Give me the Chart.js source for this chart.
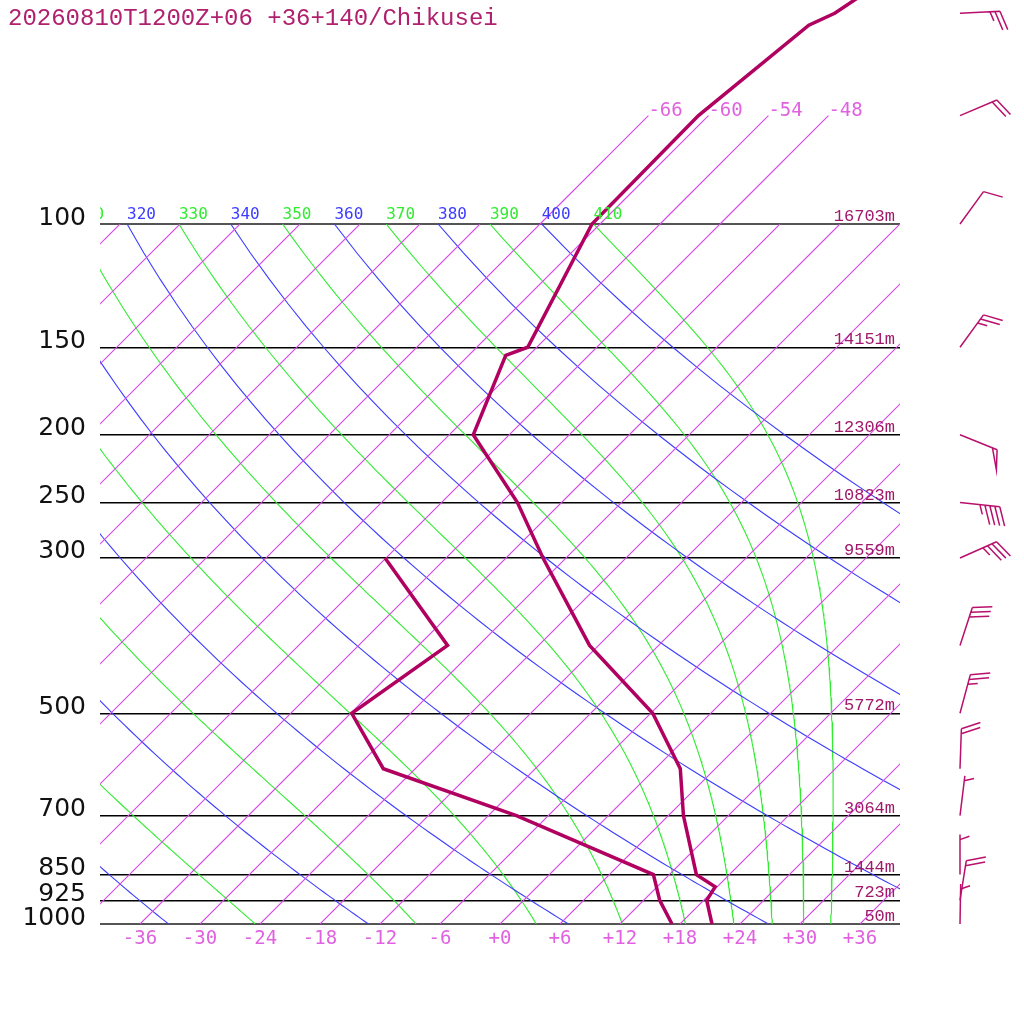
<!DOCTYPE html>
<html>
<head>
<meta charset="utf-8">
<title>Skew-T Chikusei</title>
<script src="https://cdn.jsdelivr.net/npm/chart.js@4.4.1/dist/chart.umd.min.js"></script>
<style>
  html, body { margin: 0; padding: 0; background: #fff; }
  canvas { display: block; }
</style>
</head>
<body>
<canvas id="skewt" width="1024" height="1024"></canvas>
<script>
// Skew-T / log-p sounding
const TITLE = '20260810T1200Z+06 +36+140/Chikusei';

// temperature and dewpoint profile (hPa, degC)
const tempP = [1000, 925, 885, 850, 700, 600, 500, 400, 300, 250, 200, 154, 150, 100, 70, 52, 50, 30];
const tempC = [21.2, 18.3, 17.8, 14.7, 7.5, 2.5, -5.8, -18.9, -32.3, -40.4, -51.6, -56.3, -54.9, -60.8, -61.0, -59.0, -57.6, -50.0];
const dewP = [1000, 925, 850, 700, 600, 500, 400, 300];
const dewC = [17.2, 13.6, 10.4, -9.2, -27.2, -35.9, -33.1, -48.1];

// wind (hPa, direction deg, speed kt)
const windP = [1000, 925, 850, 700, 600, 500, 400, 300, 250, 200, 150, 100, 70, 50];
const windDir = [1, 9, 0, 7, 2, 15, 18, 66, 96, 112, 36, 36, 67, 87];
const windKt = [5, 20, 5, 5, 20, 25, 30, 35, 45, 50, 25, 10, 20, 25];

// standard levels and their heights
const levelP = [100, 150, 200, 250, 300, 500, 700, 850, 925, 1000];
const levelH = ['16703m', '14151m', '12306m', '10823m', '9559m', '5772m', '3064m', '1444m', '723m', '50m'];

// background lines
const tempTicks = [-36, -30, -24, -18, -12, -6, 0, 6, 12, 18, 24, 30, 36];
const isothermC = [-108, -102, -96, -90, -84, -78, -72, -66, -60, -54, -48, -42, -36, -30, -24, -18, -12, -6, 0, 6, 12, 18, 24, 30, 36];
const upperIsothermC = [-66, -60, -54, -48];
const dryTheta = [240, 260, 280, 300, 320, 340, 360, 380, 400];
const moistTheta = [250, 270, 290, 310, 330, 350, 370, 390, 410];

const PROFILE = '#b00060';
const ISO = 'rgb(214, 72, 232)';
const ISO_TXT = '#e062e0';
const DRY = 'rgb(60, 60, 255)';
const MOIST = 'rgb(50, 235, 50)';

const SKEW = 70; // x units per decade of pressure
function skewX(t, p) { return t + SKEW * Math.log10(1000 / p); }
function pt(t, p) { return { x: skewX(t, p), y: p }; }

const Rd = 287.04, Cp = 1005.7, Lv = 2.501e6, EPS = 0.622;
function lapseMoist(T, p) {
  const tc = T - 273.15;
  const es = 6.112 * Math.exp(17.67 * tc / (tc + 243.5));
  const rs = EPS * es / (p - es);
  return ((Rd * T + Lv * rs) / p) / (Cp + Lv * Lv * rs * EPS / (Rd * T * T));
}

function moistLine(theta) {
  let p = 100, T = theta * Math.pow(0.1, Rd / Cp);
  const out = [pt(T - 273.15, p)];
  const dp = 5;
  while (p < 1000) {
    const k1 = lapseMoist(T, p);
    const k2 = lapseMoist(T + k1 * dp / 2, p + dp / 2);
    const k3 = lapseMoist(T + k2 * dp / 2, p + dp / 2);
    const k4 = lapseMoist(T + k3 * dp, p + dp);
    T += dp * (k1 + 2 * k2 + 2 * k3 + k4) / 6;
    p += dp;
    out.push(pt(T - 273.15, p));
  }
  return out;
}

function dryLine(theta) {
  const out = [];
  for (let p = 100; p <= 1000; p += 10) out.push(pt(theta * Math.pow(p / 1000, Rd / Cp) - 273.15, p));
  return out;
}

function lineSet(data, color, width, clip) {
  return { data, borderColor: color, backgroundColor: color, borderWidth: width, showLine: true, pointRadius: 0, clip, tension: 0 };
}

const datasets = [
  lineSet(tempP.map((p, i) => pt(tempC[i], p)), PROFILE, 3.5, false),
  lineSet(dewP.map((p, i) => pt(dewC[i], p)), PROFILE, 3.5, false),
];
upperIsothermC.forEach(t => datasets.push(lineSet([pt(t, 100), pt(t, 70)], ISO, 1.1, false)));
isothermC.forEach(t => datasets.push(lineSet([pt(t, 1000), pt(t, 100)], ISO, 1.1, 0)));
dryTheta.forEach(th => datasets.push(lineSet(dryLine(th), DRY, 1.1, 0)));
moistTheta.forEach(th => datasets.push(lineSet(moistLine(th), MOIST, 1.1, 0)));

function drawBarb(ctx, x0, y0, dir, kt) {
  const r = dir * Math.PI / 180;
  const ux = Math.sin(r), uy = -Math.cos(r);
  const a = 70 * Math.PI / 180;
  const fx = ux * Math.cos(a) - uy * Math.sin(a);
  const fy = ux * Math.sin(a) + uy * Math.cos(a);
  const L = 40, F = 20, gap = 5;
  const tx = x0 + L * ux, ty = y0 + L * uy;
  ctx.beginPath();
  ctx.moveTo(x0, y0);
  ctx.lineTo(tx, ty);
  let s = Math.round(kt / 5) * 5;
  const flags = Math.floor(s / 50); s -= flags * 50;
  const full = Math.floor(s / 10); s -= full * 10;
  const half = s >= 5 ? 1 : 0;
  let pos = 0;
  for (let i = 0; i < flags; i++) {
    const px = tx - pos * ux, py = ty - pos * uy;
    ctx.moveTo(px, py);
    ctx.lineTo(px + F * fx, py + F * fy);
    ctx.lineTo(px - gap * ux, py - gap * uy);
    pos += gap * 1.5;
  }
  for (let i = 0; i < full; i++) {
    const px = tx - pos * ux, py = ty - pos * uy;
    ctx.moveTo(px, py);
    ctx.lineTo(px + F * fx, py + F * fy);
    pos += gap;
  }
  if (half) {
    if (flags + full === 0) pos = gap;
    const px = tx - pos * ux, py = ty - pos * uy;
    ctx.moveTo(px, py);
    ctx.lineTo(px + F / 2 * fx, py + F / 2 * fy);
  }
  ctx.stroke();
}

const overlay = {
  id: 'overlay',
  afterDatasetsDraw(chart) {
    const { ctx, chartArea: area } = chart;
    const xs = chart.scales.x, ys = chart.scales.y;
    ctx.save();

    // title
    ctx.fillStyle = '#b0206e';
    ctx.font = '24px "Liberation Mono", monospace';
    ctx.textAlign = 'left';
    ctx.textBaseline = 'alphabetic';
    ctx.fillText(TITLE, 8, 25);

    // theta labels at 100 hPa, clipped to plot width
    ctx.save();
    ctx.beginPath();
    ctx.rect(area.left, 0, area.right - area.left, area.top);
    ctx.clip();
    ctx.font = '16px "DejaVu Sans Mono", monospace';
    const y100 = ys.getPixelForValue(100);
    dryTheta.forEach(th => {
      ctx.fillStyle = DRY;
      ctx.fillText(String(th), xs.getPixelForValue(skewX(th * Math.pow(0.1, Rd / Cp) - 273.15, 100)), y100 - 5.5);
    });
    moistTheta.forEach(th => {
      ctx.fillStyle = MOIST;
      ctx.fillText(String(th), xs.getPixelForValue(skewX(th * Math.pow(0.1, Rd / Cp) - 273.15, 100)), y100 - 5.5);
    });
    ctx.restore();

    // isotherm labels above 100 hPa
    ctx.font = '19px "DejaVu Sans Mono", monospace';
    ctx.fillStyle = ISO_TXT;
    upperIsothermC.forEach(t => {
      ctx.fillText(String(t), xs.getPixelForValue(skewX(t, 70)), ys.getPixelForValue(70));
    });

    // heights
    ctx.font = '17px "Liberation Mono", monospace';
    ctx.fillStyle = '#a0186a';
    ctx.textAlign = 'right';
    levelP.forEach((p, i) => {
      ctx.fillText(levelH[i], area.right - 5, ys.getPixelForValue(p) - 3);
    });

    // wind barbs
    ctx.strokeStyle = '#b8106c';
    ctx.lineWidth = 1.5;
    windP.forEach((p, i) => drawBarb(ctx, 960, ys.getPixelForValue(p), windDir[i], windKt[i]));

    ctx.restore();
  }
};

new Chart(document.getElementById('skewt'), {
  type: 'scatter',
  data: { datasets },
  options: {
    responsive: false,
    devicePixelRatio: 1,
    animation: false,
    events: [],
    layout: { padding: { left: 0, top: 224, right: 124, bottom: 0 } },
    plugins: { legend: { display: false }, tooltip: { enabled: false } },
    scales: {
      x: {
        type: 'linear',
        min: -40,
        max: 40,
        afterBuildTicks: s => { s.ticks = tempTicks.map(v => ({ value: v })); },
        afterFit: s => { s.height = 100; },
        grid: { display: false },
        border: { display: false },
        ticks: {
          autoSkip: false,
          maxRotation: 0,
          padding: -4,
          color: ISO_TXT,
          font: { family: 'DejaVu Sans Mono', size: 19 },
          callback: v => (v >= 0 ? '+' + v : String(v))
        }
      },
      y: {
        type: 'logarithmic',
        min: 100,
        max: 1000,
        reverse: true,
        afterBuildTicks: s => { s.ticks = levelP.map(v => ({ value: v })); },
        afterFit: s => { s.width = 100; },
        grid: {
          drawTicks: false,
          color: c => (c.tick && (c.tick.value === 100 || c.tick.value === 1000) ? '#555' : '#000'),
          lineWidth: c => (c.tick && (c.tick.value === 100 || c.tick.value === 1000) ? 2 : 1.4)
        },
        border: { display: false },
        ticks: {
          autoSkip: false,
          padding: 14,
          labelOffset: -6,
          color: '#111',
          font: { family: 'DejaVu Sans', size: 25 },
          callback: v => String(v)
        }
      }
    }
  },
  plugins: [overlay]
});
</script>
</body>
</html>
